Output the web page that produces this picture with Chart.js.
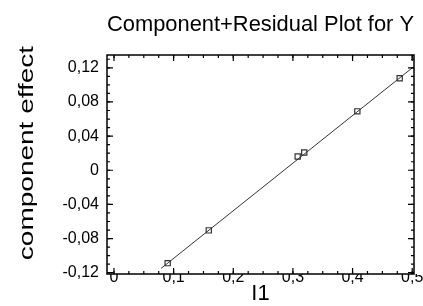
<!DOCTYPE html>
<html>
<head>
<meta charset="utf-8">
<script src="https://cdn.jsdelivr.net/npm/chart.js@4"></script>
<style>
html,body{margin:0;padding:0;background:#fff;}
#wrap{width:423px;height:306px;}
</style>
</head>
<body>
<div id="wrap"><canvas id="c" width="423" height="306"></canvas></div>
<script>
// ---- data ----
const pointX = [0.090, 0.159, 0.308, 0.319, 0.408, 0.479];
const pointY = [-0.1088, -0.0704, 0.0161, 0.0208, 0.0690, 0.1078];
const fitX = [0.079, 0.500];
const fitY = [-0.1149, 0.1199];
const xTickValues = [0, 0.1, 0.2, 0.3, 0.4, 0.5];
const xTickLabels = ['0', '0,1', '0,2', '0,3', '0,4', '0,5'];
const yTickValues = [-0.12, -0.08, -0.04, 0, 0.04, 0.08, 0.12];
const yTickLabels = ['-0,12', '-0,08', '-0,04', '0', '0,04', '0,08', '0,12'];
const xMinorStep = 0.025;
const yMinorStep = 0.01;
const titleText = 'Component+Residual Plot for Y';
const xTitleText = 'I1';
const yTitleText = 'component effect';

const FONT = '"Liberation Sans", Arial, sans-serif';

const framePlugin = {
  id: 'frame',
  afterDatasetsDraw(chart) {
    const ctx = chart.ctx;
    const a = chart.chartArea;
    const xs = chart.scales.x, ys = chart.scales.y;
    ctx.save();
    ctx.strokeStyle = '#000';
    ctx.lineWidth = 1.5;
    ctx.strokeRect(a.left, a.top, a.right - a.left, a.bottom - a.top);
    ctx.lineWidth = 1.2;
    const drawX = (v, len) => {
      const px = xs.getPixelForValue(v);
      if (px < a.left - 0.5 || px > a.right + 0.5) return;
      ctx.beginPath();
      ctx.moveTo(px, a.top); ctx.lineTo(px, a.top + len);
      ctx.moveTo(px, a.bottom); ctx.lineTo(px, a.bottom - len);
      ctx.stroke();
    };
    const drawY = (v, len) => {
      const py = ys.getPixelForValue(v);
      if (py < a.top - 0.5 || py > a.bottom + 0.5) return;
      ctx.beginPath();
      ctx.moveTo(a.left, py); ctx.lineTo(a.left + len, py);
      ctx.moveTo(a.right, py); ctx.lineTo(a.right - len, py);
      ctx.stroke();
    };
    const nx = Math.round((xTickValues[xTickValues.length - 1] - xTickValues[0]) / xMinorStep);
    for (let i = 0; i <= nx; i++) drawX(xTickValues[0] + i * xMinorStep, 3);
    const ny0 = Math.round(yTickValues[0] / yMinorStep);
    const ny1 = Math.round(ys.max / yMinorStep);
    for (let i = ny0; i <= ny1; i++) drawY(i * yMinorStep, 3);
    xTickValues.forEach(v => drawX(v, 6));
    yTickValues.forEach(v => drawY(v, 6));

    // axis titles
    ctx.fillStyle = '#000';
    ctx.font = '22px ' + FONT;
    ctx.textAlign = 'center';
    ctx.textBaseline = 'middle';
    ctx.fillText(xTitleText, (a.left + a.right) / 2, 294);
    ctx.font = '20px ' + FONT;
    ctx.translate(27, 153);
    ctx.rotate(-Math.PI / 2);
    ctx.scale(1.4, 1);
    ctx.fillText(yTitleText, 0, 0);
    ctx.restore();
  }
};

new Chart(document.getElementById('c'), {
  type: 'scatter',
  data: {
    datasets: [
      {
        type: 'line',
        data: fitX.map((x, i) => ({ x, y: fitY[i] })),
        borderColor: '#333',
        borderWidth: 1,
        pointRadius: 0,
        fill: false,
        order: 2
      },
      {
        data: pointX.map((x, i) => ({ x, y: pointY[i] })),
        pointStyle: 'rect',
        pointRadius: 3.7,
        borderColor: '#333',
        borderWidth: 1.2,
        backgroundColor: 'rgba(0,0,0,0)',
        order: 1
      }
    ]
  },
  options: {
    responsive: false,
    animation: false,
    layout: { padding: { left: 0, right: 9, top: 0, bottom: 0 } },
    plugins: {
      legend: { display: false },
      tooltip: { enabled: false },
      title: {
        display: true,
        text: titleText,
        fullSize: false,
        color: '#000',
        font: { family: FONT, size: 22, weight: 'normal', lineHeight: 1.2 },
        padding: { top: 12, bottom: 16.6 }
      }
    },
    scales: {
      x: {
        type: 'linear',
        min: -0.0117,
        max: 0.503,
        grid: { display: false, drawTicks: false },
        border: { display: false },
        afterBuildTicks: s => { s.ticks = xTickValues.map(v => ({ value: v })); },
        afterFit: s => { s.height = 32; },
        ticks: {
          color: '#000',
          padding: -6,
          font: { family: FONT, size: 16 },
          callback: (v) => { const i = xTickValues.findIndex(t => Math.abs(t - v) < 1e-9); return i >= 0 ? xTickLabels[i] : ''; }
        }
      },
      y: {
        type: 'linear',
        min: -0.1215,
        max: 0.135,
        grid: { display: false, drawTicks: false },
        border: { display: false },
        afterBuildTicks: s => { s.ticks = yTickValues.map(v => ({ value: v })); },
        afterFit: s => { s.width = 107; },
        ticks: {
          color: '#000',
          padding: 8,
          font: { family: FONT, size: 16 },
          callback: (v) => { const i = yTickValues.findIndex(t => Math.abs(t - v) < 1e-9); return i >= 0 ? yTickLabels[i] : ''; }
        }
      }
    }
  },
  plugins: [framePlugin]
});
</script>
</body>
</html>
